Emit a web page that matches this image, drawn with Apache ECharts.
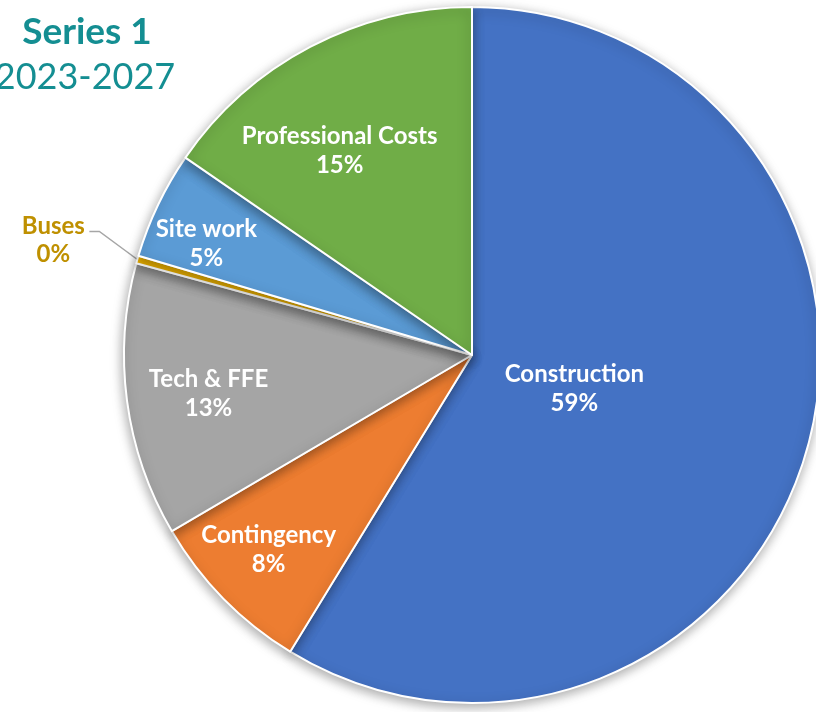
<!DOCTYPE html>
<html><head><meta charset="utf-8">
<script src="https://cdn.jsdelivr.net/npm/echarts@6/dist/echarts.min.js"></script>
<style>html,body{margin:0;padding:0;background:#fff}#c{width:816px;height:712px}</style>
</head><body><div id="c"></div>
<script>
var categories = ['Construction','Contingency','Tech & FFE','Buses','Site work','Professional Costs'];
var values = [58.75, 7.8, 12.7, 0.35, 5.0, 15.4];
var colors = ['#4472C4','#ED7D31','#A5A5A5','#FFC000','#5B9BD5','#70AD47'];
// label offsets (layout only)
var labelOffsets = [[-68,-14],[-77,71],[-88,15],null,[-106,-35],[-50,-48]];

var data = categories.map(function(name, i){
  var item = {name: name, value: values[i], itemStyle: {color: colors[i]}};
  if (name === 'Buses') {
    item.label = {position: 'outside', color: '#BF9000', fontSize: 24, fontWeight: 'bold', lineHeight: 28};
    item.labelLine = {show: true, length: 30, length2: 12, lineStyle: {color: '#A6A6A6', width: 1.5}};
  } else {
    item.label = {position: 'inside', offset: labelOffsets[i]};
    item.labelLine = {show: false};
  }
  return item;
});

var chart = echarts.init(document.getElementById('c'), null, {renderer: 'canvas'});
chart.setOption({
  animation: false,
  title: [
    {text: 'Series 1', left: 82, top: 9, textAlign: 'center',
     textStyle: {fontFamily: 'Lato', fontWeight: 'bold', fontSize: 37, color: '#148E92'}},
    {text: '2023-2027', left: 80, top: 54, textAlign: 'center',
     textStyle: {fontFamily: 'Lato', fontWeight: 'normal', fontSize: 36, color: '#148E92'}}
  ],
  series: [{
    type: 'pie',
    center: [472, 355],
    radius: [0, 348],
    startAngle: 90,
    clockwise: true,
    avoidLabelOverlap: false,
    data: data,
    itemStyle: {borderColor: '#fff', borderWidth: 2, shadowBlur: 12, shadowColor: 'rgba(0,0,0,0.35)', shadowOffsetY: 3, shadowOffsetX: -1},
    label: {
      show: true,
      fontFamily: 'Lato',
      fontWeight: 'bold',
      fontSize: 24,
      lineHeight: 29,
      color: '#fff',
      formatter: function(p){ return p.name + '\n' + Math.round(p.percent) + '%'; }
    },
    labelLayout: function(p){
      if (p.dataIndex !== 3 || !p.labelLinePoints) return {};
      var s = p.labelLinePoints[0];
      var m = [s[0] - 38, s[1] - 28];
      var e = [m[0] - 10, m[1]];
      return {
        x: e[0] - 36, y: e[1] + 9, align: 'center', verticalAlign: 'middle',
        labelLinePoints: [s, m, e]
      };
    },
    emphasis: {disabled: true}
  }]
});
</script></body></html>
